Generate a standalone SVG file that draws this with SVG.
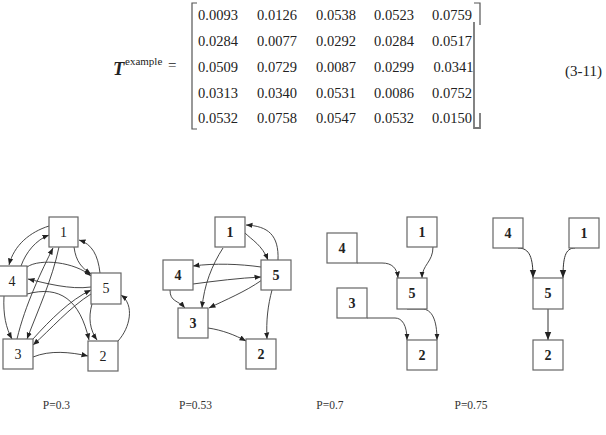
<svg xmlns="http://www.w3.org/2000/svg" width="606" height="435" viewBox="0 0 606 435">
<style>
.m{font-family:"Liberation Serif","Times New Roman",serif;font-size:14.5px;fill:#222}
.br{fill:none;stroke:#555;stroke-width:1.2}
.box{fill:#fff;stroke:#666;stroke-width:1.2}
.lb{font-family:"Liberation Serif","Times New Roman",serif;font-size:14px;fill:#222;text-anchor:middle}
.lbb{font-family:"Liberation Serif","Times New Roman",serif;font-size:14px;font-weight:bold;fill:#222;text-anchor:middle}
.e{fill:none;stroke:#333;stroke-width:0.9;marker-end:url(#ah)}
.e4{fill:none;stroke:#333;stroke-width:1;marker-end:url(#ah2)}
.p{font-family:"Liberation Serif","Times New Roman",serif;font-size:11.5px;fill:#333;text-anchor:middle}
</style>
<defs>
<marker id="ah" viewBox="0 0 10 10" refX="10" refY="5" markerWidth="6.5" markerHeight="6.5" markerUnits="userSpaceOnUse" orient="auto"><path d="M0,1 L10,5 L0,9 z" fill="#222"/></marker>
<marker id="ah2" viewBox="0 0 10 10" refX="10" refY="5" markerWidth="8" markerHeight="8" markerUnits="userSpaceOnUse" orient="auto"><path d="M0,1 L10,5 L0,9 z" fill="#222"/></marker>
</defs>
<g id="equation">
<text x="113" y="75" font-family="Liberation Serif,serif" font-size="18.5" font-weight="bold" font-style="italic" fill="#222">T</text>
<text x="125" y="65" font-family="Liberation Serif,serif" font-size="11" fill="#222">example</text>
<text x="168" y="70" font-family="Liberation Serif,serif" font-size="15" fill="#222">=</text>
<path class="br" d="M197,3 H192 V129 H197"/>
<path class="br" d="M474,3 H480 V25"/>
<path d="M474,22 V128 H480 V113" fill="none" stroke="#777" stroke-width="1.8"/>
<text class="m" y="20"><tspan x="198">0.0093</tspan><tspan x="257">0.0126</tspan><tspan x="316">0.0538</tspan><tspan x="374">0.0523</tspan><tspan x="432">0.0759</tspan></text>
<text class="m" y="46"><tspan x="198">0.0284</tspan><tspan x="257">0.0077</tspan><tspan x="316">0.0292</tspan><tspan x="374">0.0284</tspan><tspan x="432">0.0517</tspan></text>
<text class="m" y="72"><tspan x="198">0.0509</tspan><tspan x="257">0.0729</tspan><tspan x="316">0.0087</tspan><tspan x="374">0.0299</tspan><tspan x="433.5">0.0341</tspan></text>
<text class="m" y="97.5"><tspan x="198">0.0313</tspan><tspan x="257">0.0340</tspan><tspan x="316">0.0531</tspan><tspan x="374">0.0086</tspan><tspan x="432">0.0752</tspan></text>
<text class="m" y="123"><tspan x="198">0.0532</tspan><tspan x="257">0.0758</tspan><tspan x="316">0.0547</tspan><tspan x="374">0.0532</tspan><tspan x="432">0.0150</tspan></text>
<text x="565" y="76" font-family="Liberation Serif,serif" font-size="15" fill="#222">(3-11)</text>
</g>

<g id="connectors">
<!-- graph 1 -->
<path class="e" d="M49,226 C30,232 14,245 9,265"/>
<path class="e" d="M21,266 C26,252 36,240 49,235"/>
<path class="e" d="M74,247 C76,262 82,268 91,274"/>
<path class="e" d="M100,273 C98,255 92,244 79,240"/>
<path class="e" d="M59,247 C52,280 38,310 27,339"/>
<path class="e" d="M17,339 C25,305 42,270 53,248"/>
<path class="e" d="M27,267 C40,258 75,262 91,276"/>
<path class="e" d="M91,287 C70,290 45,283 28,279"/>
<path class="e" d="M27,294 C60,285 80,300 89,340"/>
<path class="e" d="M4,296 C3,315 6,328 12,339"/>
<path class="e" d="M91,294 C70,307 50,330 33,345"/>
<path class="e" d="M33,339 C50,320 70,300 91,290"/>
<path class="e" d="M92,304 C88,318 90,330 97,340"/>
<path class="e" d="M118,341 C130,328 135,305 121,295"/>
<path class="e" d="M33,357 C50,350 70,352 88,356"/>
<!-- graph 2 -->
<path class="e" d="M245,233 C252,240 262,245 268,260"/>
<path class="e" d="M278,260 C279,235 268,226 246,225"/>
<path class="e" d="M223,248 C212,265 204,285 202,308"/>
<path class="e" d="M261,267 C240,264 215,263 193,266"/>
<path class="e" d="M193,284 C215,281 240,278 261,277"/>
<path class="e" d="M262,280 C245,292 225,300 209,308"/>
<path class="e" d="M170,290 C170,302 178,300 185,308"/>
<path class="e" d="M272,290 C268,305 266,320 267,339"/>
<path class="e" d="M208,328 C222,330 235,335 246,341"/>
<!-- graph 3 -->
<path class="e" d="M357,263 H382 C392,263 397,268 398,278"/>
<path class="e" d="M433,247 C433,262 422,265 422,278"/>
<path class="e" d="M367,318 H395 C402,318 407,325 407,340"/>
<path class="e" d="M407,309 H422 C432,309 437,320 437,340"/>
<!-- graph 4 -->
<path class="e4" d="M518,248 C530,248 533,258 533,278"/>
<path class="e4" d="M575,248 C565,248 563,258 563,278"/>
<path class="e4" d="M548,309 V340"/>
</g>

<g id="g1-n1"><rect class="box" x="49" y="217" width="29" height="30"/><text class="lb" x="63.5" y="237">1</text></g>
<g id="g1-n4"><rect class="box" x="-3" y="266" width="30" height="30"/><text class="lb" x="12" y="286">4</text></g>
<g id="g1-n5"><rect class="box" x="91" y="273" width="30" height="31"/><text class="lb" x="106" y="293">5</text></g>
<g id="g1-n3"><rect class="box" x="3" y="339" width="30" height="30"/><text class="lb" x="18" y="359">3</text></g>
<g id="g1-n2"><rect class="box" x="88" y="341" width="30" height="30"/><text class="lb" x="103" y="361">2</text></g>

<g id="g2-n1"><rect class="box" x="215" y="217" width="30" height="30"/><text class="lbb" x="230" y="237">1</text></g>
<g id="g2-n4"><rect class="box" x="163" y="260" width="30" height="30"/><text class="lbb" x="178" y="280">4</text></g>
<g id="g2-n5"><rect class="box" x="261" y="260" width="30" height="30"/><text class="lbb" x="276" y="280">5</text></g>
<g id="g2-n3"><rect class="box" x="178" y="308" width="30" height="30"/><text class="lbb" x="193" y="328">3</text></g>
<g id="g2-n2"><rect class="box" x="246" y="339" width="30" height="30"/><text class="lbb" x="261" y="359">2</text></g>

<g id="g3-n1"><rect class="box" x="407" y="217" width="30" height="30"/><text class="lbb" x="422" y="237">1</text></g>
<g id="g3-n4"><rect class="box" x="327" y="233" width="30" height="30"/><text class="lbb" x="342" y="253">4</text></g>
<g id="g3-n5"><rect class="box" x="397" y="278" width="30" height="31"/><text class="lbb" x="412" y="298">5</text></g>
<g id="g3-n3"><rect class="box" x="337" y="288" width="30" height="30"/><text class="lbb" x="352" y="308">3</text></g>
<g id="g3-n2"><rect class="box" x="407" y="340" width="30" height="30"/><text class="lbb" x="422" y="360">2</text></g>

<g id="g4-n4"><rect class="box" x="493" y="218" width="30" height="30"/><text class="lbb" x="508" y="238">4</text></g>
<g id="g4-n1"><rect class="box" x="569" y="218" width="30" height="30"/><text class="lbb" x="584" y="238">1</text></g>
<g id="g4-n5"><rect class="box" x="533" y="278" width="30" height="31"/><text class="lbb" x="548" y="298">5</text></g>
<g id="g4-n2"><rect class="box" x="533" y="340" width="30" height="30"/><text class="lbb" x="548" y="360">2</text></g>

<g id="captions">
<text class="p" x="56.5" y="409">P=0.3</text>
<text class="p" x="195.5" y="409">P=0.53</text>
<text class="p" x="330" y="409">P=0.7</text>
<text class="p" x="471" y="409">P=0.75</text>
</g>
</svg>
